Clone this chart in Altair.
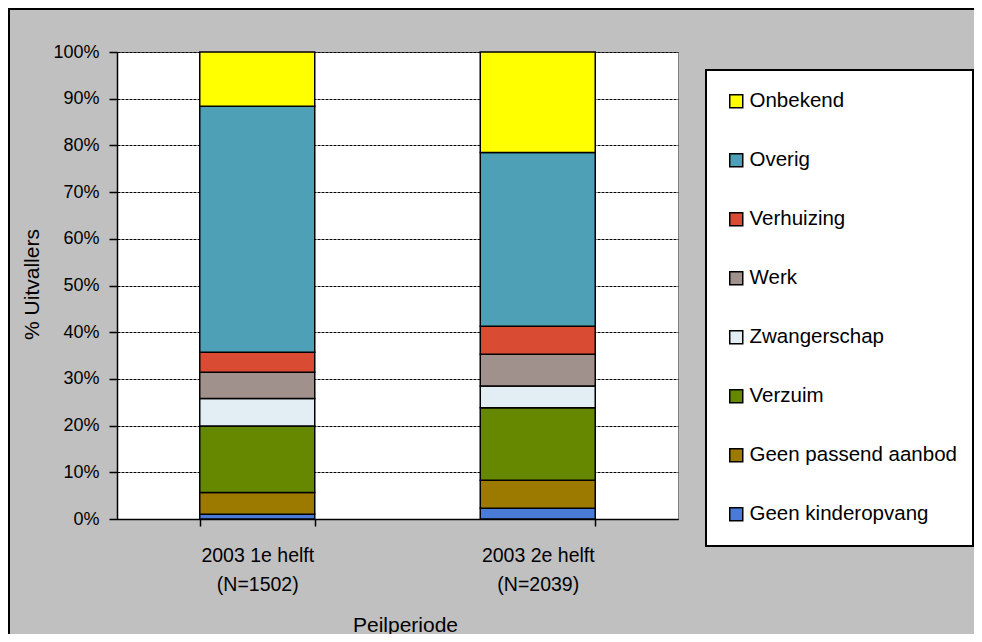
import altair as alt
import pandas as pd

periods = ["2003 1e helft\n(N=1502)", "2003 2e helft\n(N=2039)"]
# bottom to top of the stack
categories = ["Geen kinderopvang", "Geen passend aanbod", "Verzuim", "Zwangerschap",
              "Werk", "Verhuizing", "Overig", "Onbekend"]
values_p1 = [1.0, 4.7, 14.2, 5.9, 5.6, 4.3, 52.7, 11.6]
values_p2 = [2.3, 6.0, 15.5, 4.7, 6.8, 6.0, 37.2, 21.5]
colors = ["#4A7BD6", "#9C7A00", "#668800", "#E2EEF4", "#A0918D", "#D94B33", "#4DA0B5", "#FFFF00"]
y_ticks = [0, 10, 20, 30, 40, 50, 60, 70, 80, 90, 100]

rows = []
for p, vals in zip(periods, [values_p1, values_p2]):
    for i, (c, v) in enumerate(zip(categories, vals)):
        rows.append({"period": p, "cat": c, "idx": i, "value": v})
df = pd.DataFrame(rows)

FONT = "Liberation Sans"

bars = alt.Chart(df).mark_bar(stroke="black", strokeWidth=1.5).encode(
    x=alt.X("period:N", sort=periods,
            scale=alt.Scale(paddingInner=0.59, paddingOuter=0.295),
            axis=alt.Axis(title="Peilperiode", tickBand="extent", labelAngle=0,
                          labelExpr="split(datum.label, '\\n')",
                          labelFontSize=19.5, labelLineHeight=29, labelPadding=20,
                          tickSize=7, grid=False, labelLimit=0,
                          titleFontSize=21, titleX=288, titleY=112,
                          titleBaseline="alphabetic")),
    y=alt.Y("value:Q", stack="zero",
            scale=alt.Scale(domain=[0, 100], nice=False),
            axis=alt.Axis(title="% Uitvallers", values=y_ticks,
                          labelExpr="datum.value + '%'",
                          labelFontSize=18, tickSize=8, labelPadding=10,
                          grid=True, gridColor="black", gridDash=[3, 1], gridWidth=1,
                          titleFontSize=21, titleX=-79, titleY=232,
                          titleBaseline="alphabetic")),
    color=alt.Color("cat:N",
                    scale=alt.Scale(domain=categories[::-1], range=colors[::-1]),
                    legend=alt.Legend(title=None, orient="none", legendX=592, legendY=22,
                                      labelLimit=0)),
    order=alt.Order("idx:Q", sort="ascending"),
)

one = pd.DataFrame({"a": [0]})

frame_top = alt.Chart(one).mark_rule(
    color="black", strokeWidth=2, clip=False
).encode(x=alt.value(-108), x2=alt.value(870), y=alt.value(-43))

frame_left = alt.Chart(one).mark_rule(
    color="black", strokeWidth=2, clip=False
).encode(x=alt.value(-108), y=alt.value(-44), y2=alt.value(600))

legend_box = alt.Chart(one).mark_rect(
    fill="white", stroke="black", strokeWidth=2, clip=False
).encode(x=alt.value(589), x2=alt.value(856), y=alt.value(18), y2=alt.value(494))

chart = alt.layer(frame_top, frame_left, legend_box, bars).properties(
    width=561, height=467,
    autosize="none",
    padding={"left": 109, "top": 44, "right": 296, "bottom": 115},
    background="#C0C0C0",
).configure_view(
    fill="white", stroke="#808080", strokeWidth=1
).configure_axis(
    labelFont=FONT, titleFont=FONT, labelColor="black", titleColor="black",
    titleFontWeight="normal", domainColor="black", domainWidth=1.5,
    tickColor="black", tickWidth=1.5,
).configure_legend(
    labelFont=FONT, labelFontSize=20.5, labelColor="black",
    symbolType="square", symbolSize=169, symbolStrokeColor="black",
    symbolStrokeWidth=1.5, symbolOpacity=1,
    rowPadding=38, padding=17, labelOffset=3,
)

chart.save("out.html", embed_options={"renderer": "svg", "actions": False})
